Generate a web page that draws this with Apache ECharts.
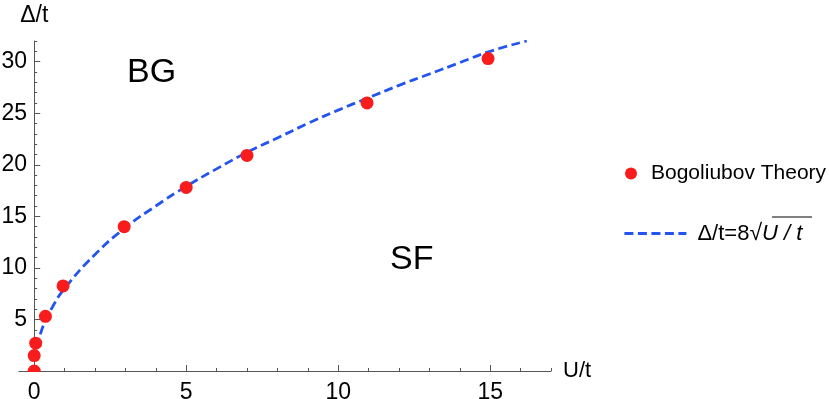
<!DOCTYPE html>
<html>
<head>
<meta charset="utf-8">
<script src="https://cdn.jsdelivr.net/npm/echarts@6/dist/echarts.min.js"></script>
<style>
  html, body { margin: 0; padding: 0; background: #fff; }
  #chart { width: 829px; height: 399px; }
</style>
</head>
<body>
<div id="chart"></div>
<script>
// Bogoliubov points
const pointU = [0, 0, 0.05, 0.37, 0.95, 2.96, 5, 7, 10.95, 14.93]
const pointGap = [0, 1.5, 2.7, 5.3, 8.25, 14, 17.8, 20.9, 26, 30.3]

// dashed curve, sampled by eye along the reference line
const curveU = [0.08, 0.3, 0.6, 1, 2, 3, 4, 5, 6, 7, 8, 9, 10, 11, 12, 13, 14, 15, 16.2]
const curveGap = [2.3, 4.4, 6.2, 8, 11.3, 13.9, 16, 17.9, 19.6, 21.2, 22.6, 24, 25.3, 26.5, 27.7, 28.8, 29.9, 31, 32]

const xMajor = [0, 5, 10, 15]
const xMinor = [1, 2, 3, 4, 6, 7, 8, 9, 11, 12, 13, 14, 16, 17]
const yLabels = [5, 10, 15, 20, 25, 30]
const yMajor = [0, 5, 10, 15, 20, 25, 30]
const yMinor = [1, 2, 3, 4, 6, 7, 8, 9, 11, 12, 13, 14, 16, 17, 18, 19, 21, 22, 23, 24, 26, 27, 28, 29, 31, 32]

const pointName = 'Bogoliubov Theory'
const curveName = 'Δ/t=8√U/t'

const font = "'Liberation Sans', Arial, sans-serif"
const axisColor = '#555'
const blue = '#2354f2'
const red = '#f81c1c'

const chart = echarts.init(document.getElementById('chart'))

function xAxisBase(extra) {
  return Object.assign({
    type: 'value',
    min: -0.5,
    max: 17,
    position: 'bottom',
    splitLine: { show: false },
    axisLine: { onZero: true, lineStyle: { color: axisColor, width: 1 } },
  }, extra)
}

function yAxisBase(extra) {
  return Object.assign({
    type: 'value',
    min: 0,
    max: 32,
    position: 'left',
    splitLine: { show: false },
    axisLine: { onZero: true, lineStyle: { color: axisColor, width: 1 } },
  }, extra)
}

chart.setOption({
  animation: false,
  textStyle: { fontFamily: font },
  grid: { left: 19, right: 278, top: 41, bottom: 28, containLabel: false, outerBoundsMode: 'none' },
  xAxis: [
    xAxisBase({
      name: 'U/t',
      nameLocation: 'end',
      nameGap: 12,
      nameTextStyle: { color: '#000', fontSize: 22, fontFamily: font, verticalAlign: 'middle' },
      axisTick: { inside: true, length: 6, customValues: xMajor, lineStyle: { color: axisColor } },
      axisLabel: { customValues: xMajor, color: '#000', fontSize: 23, fontFamily: font, margin: 10 },
    }),
    xAxisBase({
      axisLine: { show: false, onZero: true },
      axisTick: { inside: true, length: 3, customValues: xMinor, lineStyle: { color: axisColor } },
      axisLabel: { show: false },
    }),
  ],
  yAxis: [
    yAxisBase({
      name: 'Δ/t',
      nameLocation: 'end',
      nameGap: 14,
      nameTextStyle: { color: '#000', fontSize: 23, fontFamily: font },
      axisTick: { inside: true, length: 6, customValues: yMajor, lineStyle: { color: axisColor } },
      // labels are laid out from the grid edge here, so pull them in next to the axis at U=0
      axisLabel: { customValues: yLabels, color: '#000', fontSize: 23, fontFamily: font, margin: -8 },
    }),
    yAxisBase({
      axisLine: { show: false, onZero: true },
      axisTick: { inside: true, length: 3, customValues: yMinor, lineStyle: { color: axisColor } },
      axisLabel: { show: false },
    }),
  ],
  legend: [
    {
      data: [pointName],
      left: 625,
      top: 163,
      padding: 0,
      itemWidth: 12,
      itemHeight: 12,
      itemGap: 0,
      textStyle: { color: '#000', fontSize: 21, fontFamily: font, padding: [0, 0, 0, 9] },
    },
    {
      data: [curveName],
      left: 623,
      top: 222,
      padding: 0,
      itemWidth: 62,
      itemHeight: 16,
      itemStyle: { opacity: 0 },
      lineStyle: { width: 2.8 },
      formatter: () => '{a|Δ/t=8}{r|√}{u|U / t}',
      textStyle: {
        color: '#000',
        fontSize: 22,
        fontFamily: font,
        rich: {
          a: { fontSize: 22, fontFamily: font, padding: [0, 0, 0, 6] },
          r: { fontSize: 23, fontFamily: font },
          u: { fontSize: 22, fontFamily: font, fontStyle: 'italic' },
        },
      },
    },
  ],
  graphic: [
    { type: 'text', left: 127, top: 56, style: { text: 'BG', font: '34px ' + font, fill: '#000' } },
    { type: 'text', left: 390, top: 243, style: { text: 'SF', font: '34px ' + font, fill: '#000' } },
    { type: 'line', shape: { x1: 772, y1: 217, x2: 812, y2: 217 }, style: { stroke: '#000', lineWidth: 1 } },
    // hides the lower half of the dot sitting on the U axis, as the plot range does in the reference
    { type: 'rect', z: 10, shape: { x: 24, y: 372, width: 20, height: 6 }, style: { fill: '#fff' } },
  ],
  series: [
    {
      name: curveName,
      type: 'line',
      data: curveU.map((u, i) => [u, curveGap[i]]),
      smooth: true,
      symbol: 'none',
      lineStyle: { color: blue, width: 2.8, type: [9, 4.5] },
      itemStyle: { color: blue },
      z: 2,
    },
    {
      name: pointName,
      type: 'scatter',
      data: pointU.map((u, i) => [u, pointGap[i]]),
      symbolSize: 13,
      itemStyle: { color: red, opacity: 1 },
      z: 3,
    },
  ],
})
</script>
</body>
</html>
